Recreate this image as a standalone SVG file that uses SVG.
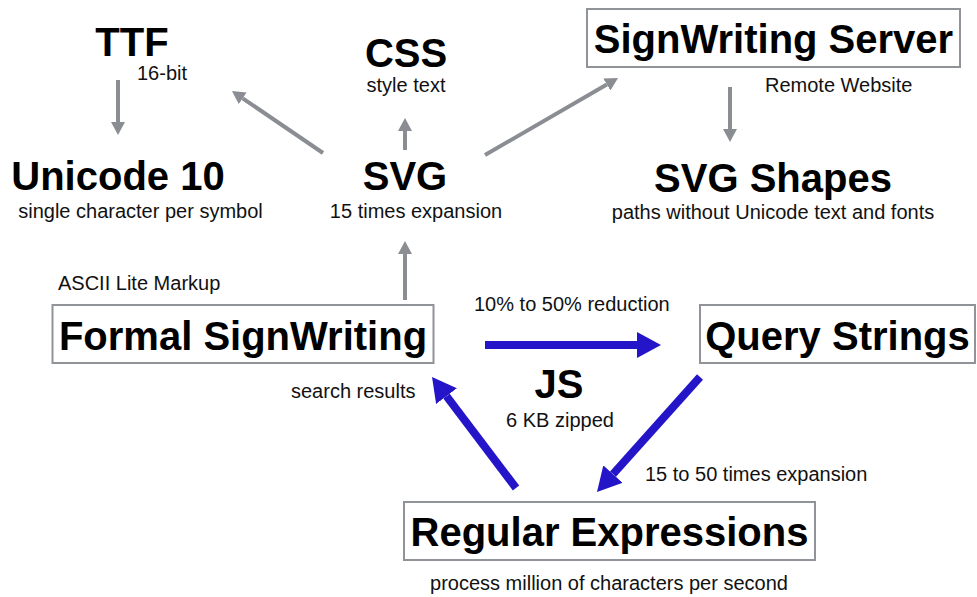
<svg xmlns="http://www.w3.org/2000/svg" width="977" height="597" viewBox="0 0 977 597">
  <style>
    .title { font-family: "Liberation Sans", Arial, sans-serif; font-weight: bold; font-size: 40px; fill: #000; text-anchor: middle; }
    .note { font-family: "Liberation Sans", Arial, sans-serif; font-size: 20px; fill: #111; }
    .mid { text-anchor: middle; }
    .box { fill: #fff; stroke: #909398; stroke-width: 2; }
    .grey { stroke: #8a8d92; stroke-width: 4; fill: none; marker-end: url(#headGrey); }
    .blue { stroke: #2416c8; stroke-width: 8; fill: none; marker-end: url(#headBlue); }
  </style>
  <defs>
    <marker id="headGrey" markerUnits="userSpaceOnUse" viewBox="0 0 13 14" markerWidth="13" markerHeight="14" refX="0" refY="7" orient="auto">
      <path d="M0,0 L13,7 L0,14 z" fill="#8a8d92"/>
    </marker>
    <marker id="headBlue" markerUnits="userSpaceOnUse" viewBox="0 0 24 26" markerWidth="24" markerHeight="26" refX="0" refY="13" orient="auto">
      <path d="M0,0 L24,13 L0,26 z" fill="#2416c8"/>
    </marker>
  </defs>

  <rect width="977" height="597" fill="#fff"/>

  <g id="connectors">
    <line class="grey" x1="118" y1="80" x2="118" y2="122"/>
    <line class="grey" x1="405" y1="150" x2="405" y2="131"/>
    <line class="grey" x1="323" y1="153" x2="242.7" y2="98.3"/>
    <line class="grey" x1="485" y1="155" x2="606.8" y2="84.5"/>
    <line class="grey" x1="405" y1="300" x2="405" y2="254"/>
    <line class="grey" x1="730" y1="87" x2="730" y2="129"/>
    <line class="blue" x1="485" y1="345" x2="637" y2="345"/>
    <line class="blue" x1="516" y1="488" x2="446.5" y2="396.1"/>
    <line class="blue" x1="700" y1="377" x2="613" y2="474.1"/>
  </g>

  <g id="ttf">
    <text class="title" x="132" y="56">TTF</text>
    <text class="note" x="137" y="80">16-bit</text>
  </g>

  <g id="unicode">
    <text class="title" x="118" y="190">Unicode 10</text>
    <text class="note mid" x="140.5" y="218">single character per symbol</text>
  </g>

  <g id="css">
    <text class="title" x="406" y="67">CSS</text>
    <text class="note mid" x="406" y="92">style text</text>
  </g>

  <g id="svg">
    <text class="title" x="405" y="190">SVG</text>
    <text class="note mid" x="416" y="218">15 times expansion</text>
  </g>

  <g id="server">
    <rect class="box" x="587" y="9" width="373" height="58"/>
    <text class="title" x="773.5" y="53">SignWriting Server</text>
    <text class="note" x="765" y="92">Remote Website</text>
  </g>

  <g id="shapes">
    <text class="title" x="773" y="192">SVG Shapes</text>
    <text class="note mid" x="773" y="219">paths without Unicode text and fonts</text>
  </g>

  <g id="formal">
    <text class="note" x="58" y="290">ASCII Lite Markup</text>
    <rect class="box" x="52.5" y="305" width="381" height="58"/>
    <text class="title" x="243" y="350">Formal SignWriting</text>
    <text class="note" x="291" y="398">search results</text>
  </g>

  <g id="query">
    <text class="note" x="474" y="311">10% to 50% reduction</text>
    <rect class="box" x="700" y="305" width="275" height="58"/>
    <text class="title" x="837.5" y="350">Query Strings</text>
  </g>

  <g id="js">
    <text class="title" x="559" y="398">JS</text>
    <text class="note mid" x="560" y="427">6 KB zipped</text>
  </g>

  <g id="regex">
    <text class="note" x="645" y="481">15 to 50 times expansion</text>
    <rect class="box" x="404" y="502" width="411" height="58"/>
    <text class="title" x="609.5" y="546">Regular Expressions</text>
    <text class="note mid" x="609" y="590">process million of characters per second</text>
  </g>
</svg>
